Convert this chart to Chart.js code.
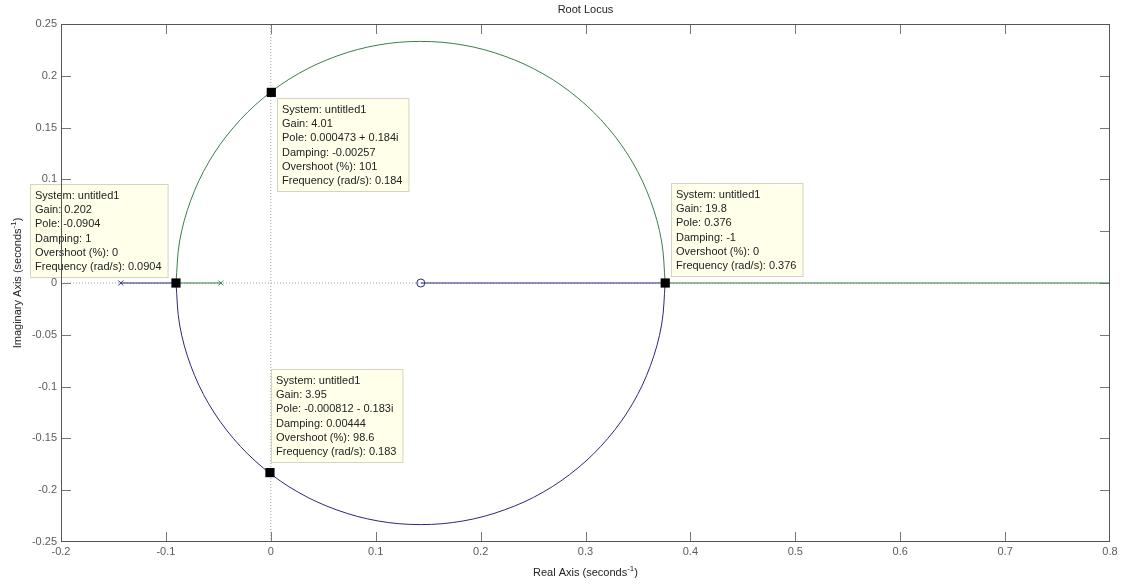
<!DOCTYPE html>
<html>
<head>
<meta charset="utf-8">
<title>Root Locus</title>
<style>
  html, body { margin: 0; padding: 0; background: #ffffff; }
  #wrap { width: 1122px; height: 586px; }
  canvas { display: block; }
</style>
<script src="https://cdn.jsdelivr.net/npm/chart.js@4.4.1/dist/chart.umd.min.js"></script>
</head>
<body>
<div id="wrap"><canvas id="rl" width="1122" height="586"></canvas></div>
<script>
// Complex branch between breakaway (-0.0904) and break-in (0.376)
const upperArcRe = [-0.0904, -0.0869, -0.0763, -0.0592, -0.0358, -0.0071, 0.0262, 0.0631, 0.1023, 0.1428,
                    0.1833, 0.2225, 0.2594, 0.2927, 0.3214, 0.3448, 0.3619, 0.3725, 0.3760];
const upperArcIm = [0, 0.0405, 0.0798, 0.1166, 0.1499, 0.1786, 0.2020, 0.2191, 0.2297, 0.2332,
                    0.2297, 0.2191, 0.2020, 0.1786, 0.1499, 0.1166, 0.0798, 0.0405, 0];
const lowerArcRe = [-0.0904, -0.0869, -0.0763, -0.0592, -0.0358, -0.0071, 0.0262, 0.0631, 0.1023, 0.1428,
                    0.1833, 0.2225, 0.2594, 0.2927, 0.3214, 0.3448, 0.3619, 0.3725, 0.3760];
const lowerArcIm = [0, -0.0405, -0.0798, -0.1166, -0.1499, -0.1786, -0.2020, -0.2191, -0.2297, -0.2332,
                    -0.2297, -0.2191, -0.2020, -0.1786, -0.1499, -0.1166, -0.0798, -0.0405, 0];

// Real-axis parts of the two branches
const branch1StartRe = [-0.143, -0.0904];   // open-loop pole -> breakaway
const branch1EndRe   = [0.376, 0.143];      // break-in -> zero
const branch2StartRe = [-0.0476, -0.0904];  // open-loop pole -> breakaway
const branch2EndRe   = [0.376, 0.8];        // break-in -> infinity

// Open-loop poles and zero
const branch1PoleRe = [-0.143];
const branch2PoleRe = [-0.0476];
const zeroRe = [0.143];

// Axis ticks
const xTickValues = [-0.2, -0.1, 0, 0.1, 0.2, 0.3, 0.4, 0.5, 0.6, 0.7, 0.8];
const xTickLabels = ['-0.2', '-0.1', '0', '0.1', '0.2', '0.3', '0.4', '0.5', '0.6', '0.7', '0.8'];
const yTickValues = [0.25, 0.2, 0.15, 0.1, 0.05, 0, -0.05, -0.1, -0.15, -0.2, -0.25];
const yTickLabels = ['0.25', '0.2', '0.15', '0.1', '0.05', '0', '-0.05', '-0.1', '-0.15', '-0.2', '-0.25'];

// Data tips
const tipSystem    = ['untitled1', 'untitled1', 'untitled1', 'untitled1'];
const tipRe        = [-0.0904, 0.000473, 0.376, -0.000812];
const tipIm        = [0, 0.184, 0, -0.183];
const tipGain      = ['0.202', '4.01', '19.8', '3.95'];
const tipDamping   = ['1', '-0.00257', '-1', '0.00444'];
const tipOvershoot = ['0', '101', '0', '98.6'];
const tipFrequency = ['0.0904', '0.184', '0.376', '0.183'];

// Where each tip box sits relative to its marker
const tipPlacement = [
  { dx: -7, dy: -5, alignX: 'right', alignY: 'bottom' },
  { dx: 6,  dy: 6,  alignX: 'left',  alignY: 'top' },
  { dx: 6,  dy: -6, alignX: 'left',  alignY: 'bottom' },
  { dx: 1,  dy: -10, alignX: 'left', alignY: 'bottom' }
];

const BLUE = '#28287e';
const GREEN = '#3b7d4a';
const FONT = '"Liberation Sans", Arial, sans-serif';

const pts = (xs, ys) => xs.map((x, i) => ({ x, y: ys ? ys[i] : 0 }));

function poleText(re, im) {
  if (im === 0) return String(re);
  return re + (im < 0 ? ' - ' : ' + ') + Math.abs(im) + 'i';
}

function drawWithSup(ctx, main, sup, tail, cx, cy, size) {
  ctx.font = size + 'px ' + FONT;
  const w1 = ctx.measureText(main).width;
  const w3 = ctx.measureText(tail).width;
  ctx.font = (size - 3) + 'px ' + FONT;
  const w2 = ctx.measureText(sup).width;
  let x = cx - (w1 + w2 + w3) / 2;
  ctx.textAlign = 'left';
  ctx.textBaseline = 'middle';
  ctx.font = size + 'px ' + FONT;
  ctx.fillText(main, x, cy);
  x += w1;
  ctx.font = (size - 3) + 'px ' + FONT;
  ctx.fillText(sup, x, cy - 4);
  x += w2;
  ctx.font = size + 'px ' + FONT;
  ctx.fillText(tail, x, cy);
}

const frameAndTips = {
  id: 'frameAndTips',
  beforeDatasetsDraw(chart) {
    const { ctx, chartArea: a, scales } = chart;
    ctx.save();
    ctx.strokeStyle = '#777';
    ctx.lineWidth = 1;
    const len = 10;
    ctx.beginPath();
    xTickValues.forEach(v => {
      const px = Math.round(scales.x.getPixelForValue(v)) + 0.5;
      if (px <= a.left + 1 || px >= a.right - 1) return;
      ctx.moveTo(px, a.bottom); ctx.lineTo(px, a.bottom - len);
      ctx.moveTo(px, a.top); ctx.lineTo(px, a.top + len);
    });
    yTickValues.forEach(v => {
      const py = Math.round(scales.y.getPixelForValue(v)) + 0.5;
      if (py <= a.top + 1 || py >= a.bottom - 1) return;
      ctx.moveTo(a.left, py); ctx.lineTo(a.left + len, py);
      ctx.moveTo(a.right, py); ctx.lineTo(a.right - len, py);
    });
    ctx.stroke();
    ctx.restore();
  },
  afterDatasetsDraw(chart) {
    const { ctx, chartArea: a, scales } = chart;
    ctx.save();
    // data tip boxes
    const lineH = 14.2;
    ctx.font = '11px ' + FONT;
    tipRe.forEach((re, i) => {
      const lines = [
        'System: ' + tipSystem[i],
        'Gain: ' + tipGain[i],
        'Pole: ' + poleText(re, tipIm[i]),
        'Damping: ' + tipDamping[i],
        'Overshoot (%): ' + tipOvershoot[i],
        'Frequency (rad/s): ' + tipFrequency[i]
      ];
      const w = Math.max(...lines.map(l => ctx.measureText(l).width)) + 12;
      const h = 94;
      const mx = scales.x.getPixelForValue(re);
      const my = scales.y.getPixelForValue(tipIm[i]);
      const p = tipPlacement[i];
      const bx = Math.round(p.alignX === 'right' ? mx + p.dx - w : mx + p.dx);
      const by = Math.round(p.alignY === 'bottom' ? my + p.dy - h : my + p.dy);
      ctx.fillStyle = 'rgba(255,255,232,0.9)';
      ctx.fillRect(bx, by, w, h);
      ctx.strokeStyle = '#d4d4c2';
      ctx.lineWidth = 1;
      ctx.strokeRect(bx + 0.5, by + 0.5, w - 1, h - 1);
      ctx.fillStyle = '#222';
      ctx.textAlign = 'left';
      ctx.textBaseline = 'middle';
      lines.forEach((l, k) => ctx.fillText(l, bx + 5, by + 12 + k * lineH));
    });
    // axes box
    ctx.strokeStyle = '#555';
    ctx.lineWidth = 1;
    ctx.strokeRect(a.left + 0.5, a.top + 0.5, a.right - a.left - 1, a.bottom - a.top - 1);
    // title and axis titles
    ctx.fillStyle = '#222';
    ctx.font = '11px ' + FONT;
    ctx.textAlign = 'center';
    ctx.textBaseline = 'middle';
    const cx = (a.left + a.right) / 2;
    ctx.fillText('Root Locus', cx, 10);
    drawWithSup(ctx, 'Real Axis (seconds', '-1', ')', cx, 573, 11);
    ctx.save();
    ctx.translate(18, (a.top + a.bottom) / 2);
    ctx.rotate(-Math.PI / 2);
    drawWithSup(ctx, 'Imaginary Axis (seconds', '-1', ')', 0, 0, 11);
    ctx.restore();
    ctx.restore();
  }
};

const lineSet = (data, color, extra) => Object.assign({
  data, showLine: true, borderColor: color, backgroundColor: color,
  borderWidth: 1, pointRadius: 0, tension: 0, fill: false, order: 5
}, extra || {});

new Chart(document.getElementById('rl'), {
  type: 'scatter',
  data: {
    datasets: [
      // jw-axis and real-axis guides
      lineSet([{ x: -0.2, y: 0 }, { x: 0.8, y: 0 }], '#a0a0a0', { borderDash: [1, 2], order: 20 }),
      lineSet([{ x: 0, y: -0.25 }, { x: 0, y: 0.25 }], '#a0a0a0', { borderDash: [1, 2], order: 20 }),
      // branch 1 (blue)
      lineSet(pts(branch1StartRe), BLUE),
      lineSet(pts(lowerArcRe, lowerArcIm), BLUE, { tension: 0.35 }),
      lineSet(pts(branch1EndRe), BLUE),
      // branch 2 (green)
      lineSet(pts(branch2StartRe), GREEN),
      lineSet(pts(upperArcRe, upperArcIm), GREEN, { tension: 0.35 }),
      lineSet(pts(branch2EndRe), GREEN),
      // poles and zero
      { data: pts(branch1PoleRe), pointStyle: 'crossRot', pointRadius: 3.5, borderColor: BLUE, borderWidth: 1, order: 2 },
      { data: pts(branch2PoleRe), pointStyle: 'crossRot', pointRadius: 3.5, borderColor: GREEN, borderWidth: 1, order: 2 },
      { data: pts(zeroRe), pointStyle: 'circle', pointRadius: 4, borderColor: BLUE, backgroundColor: 'rgba(255,255,255,0)', borderWidth: 1, order: 2 },
      // data tip markers
      { data: pts(tipRe, tipIm), pointStyle: 'rect', pointRadius: 6.5, borderColor: '#000', backgroundColor: '#000', borderWidth: 0, order: 1 }
    ]
  },
  options: {
    responsive: false,
    animation: false,
    devicePixelRatio: 1,
    layout: { padding: { top: 24, right: 12, left: 0, bottom: 0 } },
    plugins: { legend: { display: false }, tooltip: { enabled: false }, title: { display: false } },
    events: [],
    scales: {
      x: {
        type: 'linear', min: -0.2, max: 0.8,
        grid: { display: false, drawTicks: false },
        border: { display: false },
        afterBuildTicks: s => { s.ticks = xTickValues.map(v => ({ value: v })); },
        afterFit: s => { s.height = 44; },
        ticks: { color: '#5c5c5c', font: { size: 11, family: FONT }, padding: 3, maxRotation: 0, autoSkip: false,
                 callback: (v, i) => xTickLabels[i] }
      },
      y: {
        type: 'linear', min: -0.25, max: 0.25,
        grid: { display: false, drawTicks: false },
        border: { display: false },
        afterBuildTicks: s => { s.ticks = yTickValues.map(v => ({ value: v })); },
        afterFit: s => { s.width = 61; },
        ticks: { color: '#5c5c5c', font: { size: 11, family: FONT }, padding: 4, autoSkip: false,
                 callback: (v, i) => yTickLabels[i] }
      }
    }
  },
  plugins: [frameAndTips]
});
</script>
</body>
</html>
